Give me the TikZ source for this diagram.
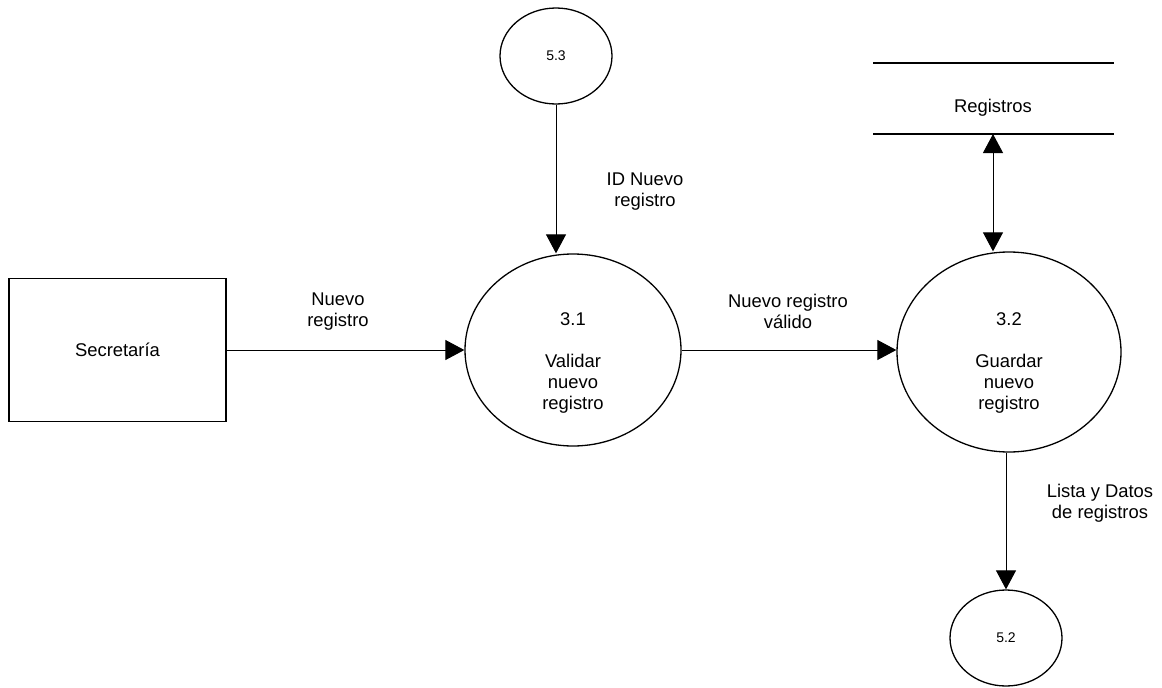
\documentclass[tikz,border=0pt]{standalone}
\usepackage{fontspec}
\setmainfont{Liberation Sans}
\usetikzlibrary{shapes.geometric,arrows.meta}

\begin{document}
\begin{tikzpicture}[
  x=1pt, y=-1pt,
  proc/.style={draw, ellipse, line width=1.3pt, inner sep=0pt},
  smallproc/.style={draw, ellipse, line width=1.3pt, inner sep=0pt, minimum width=112pt, minimum height=96pt, font=\fontsize{14}{16}\selectfont},
  ext/.style={draw, line width=1.3pt, minimum width=217pt, minimum height=143pt, font=\fontsize{18.4}{21}\selectfont},
  lbl/.style={align=center, font=\fontsize{18.4}{21}\selectfont},
  flow/.style={-{Triangle[length=19pt,width=20pt]}, line width=1pt},
  flowboth/.style={{Triangle[length=19pt,width=20pt]}-{Triangle[length=19pt,width=20pt]}, line width=1pt}
]
\useasboundingbox (0,0) rectangle (1162,688);

\node[ext] (sec) at (117.5,350) {Secretaría};
\node[proc, minimum width=216pt, minimum height=192pt] (p31) at (573,350) {};
\node[lbl] (t31) at ([yshift=-13pt]p31.center) {3.1\\[21pt]Validar\\nuevo\\registro};
\node[proc, minimum width=224pt, minimum height=200pt] (p32) at (1009,352) {};
\node[lbl] (t32) at ([yshift=-11pt]p32.center) {3.2\\[21pt]Guardar\\nuevo\\registro};
\node[smallproc] (p53) at (556,56) {5.3};
\node[smallproc] (p52) at (1006,638) {5.2};

% almacen de datos
\draw[line width=1.3pt] (873,63) -- (1114,63);
\draw[line width=1.3pt] (873,134) -- (1114,134);
\node[lbl] (reg) at (993,108) {Registros};
\coordinate (regb) at (993,134);

\node[lbl] (nuevo) at (338,312) {Nuevo\\registro};
\node[lbl] (valido) at (788,311) {Nuevo registro\\válido};
\node[lbl] (idnuevo) at (645,192) {ID Nuevo\\registro};
\node[lbl] (lista) at (1100,503) {Lista y Datos\\de registros};

\draw[flow] (sec.east) -- (p31.west);
\draw[flow] (p31.east) -- (p31.east -| p32.west);
\draw[flow] (p53.south) -- (p53.south |- p31.north);
\draw[flowboth] (regb) -- (regb |- p32.north);
\draw[flow] (p32.south -| p52.north) -- (p52.north);
\end{tikzpicture}
\end{document}
